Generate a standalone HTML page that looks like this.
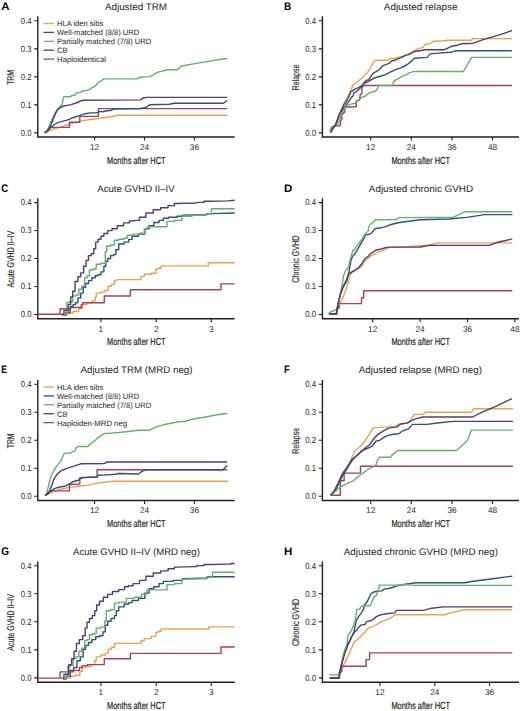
<!DOCTYPE html><html><head><meta charset="utf-8"><style>html,body{margin:0;padding:0;background:#fff;}svg{display:block;}</style></head><body>
<svg width="520" height="711" viewBox="0 0 520 711" font-family='"Liberation Sans", sans-serif' text-rendering="geometricPrecision">
<rect width="520" height="711" fill="#fff"/>
<text x="1.2" y="9.8" font-size="11" font-weight="bold" fill="#000" textLength="8.3" lengthAdjust="spacingAndGlyphs">A</text>
<text x="105" y="9.9" font-size="9.6" fill="#231f20" textLength="61.9" lengthAdjust="spacingAndGlyphs">Adjusted TRM</text>
<path d="M37.8 16.3V137H234.7" fill="none" stroke="#231f20" stroke-width="1.4"/>
<text x="20.7" y="135.7" font-size="8.8" fill="#231f20" textLength="10.8" lengthAdjust="spacingAndGlyphs">0.0</text>
<text x="20.7" y="107.67" font-size="8.8" fill="#231f20" textLength="10.8" lengthAdjust="spacingAndGlyphs">0.1</text>
<text x="20.7" y="79.65" font-size="8.8" fill="#231f20" textLength="10.8" lengthAdjust="spacingAndGlyphs">0.2</text>
<text x="20.7" y="51.62" font-size="8.8" fill="#231f20" textLength="10.8" lengthAdjust="spacingAndGlyphs">0.3</text>
<text x="20.7" y="23.6" font-size="8.8" fill="#231f20" textLength="10.8" lengthAdjust="spacingAndGlyphs">0.4</text>
<text x="94.6" y="149.8" font-size="8.3" fill="#231f20" text-anchor="middle">12</text>
<text x="144.5" y="149.8" font-size="8.3" fill="#231f20" text-anchor="middle">24</text>
<text x="194.4" y="149.8" font-size="8.3" fill="#231f20" text-anchor="middle">36</text>
<path d="M34.2 132.9H37.8M34.2 104.88H37.8M34.2 76.85H37.8M34.2 48.83H37.8M34.2 20.8H37.8M94.6 137V140.6M144.5 137V140.6M194.4 137V140.6" stroke="#231f20" stroke-width="1.1" fill="none"/>
<text x="107.05" y="163.7" font-size="10.2" fill="#231f20" stroke="#231f20" stroke-width="0.2" textLength="58.5" lengthAdjust="spacingAndGlyphs">Months after HCT</text>
<text transform="translate(14.2 77.45) rotate(-90)" x="0" y="0" font-size="9.8" fill="#231f20" stroke="#231f20" stroke-width="0.15" text-anchor="middle" textLength="14.8" lengthAdjust="spacingAndGlyphs">TRM</text>
<path d="M44.5 132.6 46.3 132.5 50.9 130.2 55.5 128.5 61.3 126.8 67.1 125 72.8 123.3 78.6 121.6 84.4 120.4 90.2 119.5 95 119 99.6 118.3 105 117.5 110.4 116.7 115 116 117.3 115.2 227.3 115.2" fill="none" stroke="#eca24c" stroke-width="1.4" stroke-linejoin="round"/>
<path d="M44.5 132.6 46.3 132 48.6 129.1 50.9 127.4 69.4 127.4 69.4 122.2 79.8 122.2 79.8 116.4 98.2 116.4 98.5 108.6 227.3 108.6" fill="none" stroke="#a83f5e" stroke-width="1.4" stroke-linejoin="round"/>
<path d="M44.5 132.6 46.3 132 50.9 127.4 54.4 124.5 57.8 122.7 61.3 121.6 65.9 120.4 69.4 119.3 71.7 118.1 75.2 117 78.6 115.8 82.1 114.7 85.5 113.7 90.2 112.9 95 112.9 98.1 112.5 99.6 111.4 102.7 111.7 105.8 111 111.9 110.2 112.7 109 140.6 108.5 145.9 107.5 150.1 104.7 169.1 104.3 174.4 103.3 223.1 103.3 227.3 100.5" fill="none" stroke="#31507c" stroke-width="1.4" stroke-linejoin="round"/>
<path d="M44.5 132.6 46.3 132 48.6 127.4 50.9 121.6 53.2 117 55.5 112.4 57.8 108.9 61.3 105.4 62.5 103.1 63 99.7 63.6 96.8 70.5 96.8 71.7 95.6 75.2 95 75.7 93.3 80.9 92.2 82.1 91 86.7 90.4 87.8 89.9 90.2 89.3 91.3 88.1 94.8 86.4 97.1 84.1 98.2 82.4 101.7 80.6 104 78.9 137.4 78.9 139.5 77.2 150.1 76.6 157.5 72.4 167 69.8 177.6 69.8 181.8 66 193.5 63.9 224.1 58.8 227.3 58.8" fill="none" stroke="#66b06e" stroke-width="1.4" stroke-linejoin="round"/>
<path d="M44.5 132.6 46.3 132 48.6 129.1 50.9 125 53.2 119.3 55.5 113.5 57.8 109.5 60.2 107.7 63.6 106 67.1 105.4 70.5 104.9 74 103.7 77.5 102.5 80.9 100.8 83.8 100.2 140.6 99.9 143.8 97.7 146.9 97.4 227.3 97.4" fill="none" stroke="#553b71" stroke-width="1.4" stroke-linejoin="round"/>
<path d="M43.5 23.5H54" stroke="#eca24c" stroke-width="1.3"/>
<text x="57" y="26.4" font-size="7.8" fill="#231f20" textLength="46.3" lengthAdjust="spacingAndGlyphs">HLA iden sibs</text>
<path d="M43.5 32.4H54" stroke="#31507c" stroke-width="1.3"/>
<text x="57" y="35.3" font-size="7.8" fill="#231f20" textLength="82.2" lengthAdjust="spacingAndGlyphs">Well-matched (8/8) URD</text>
<path d="M43.5 41.3H54" stroke="#66b06e" stroke-width="1.3"/>
<text x="57" y="44.2" font-size="7.8" fill="#231f20" textLength="94.2" lengthAdjust="spacingAndGlyphs">Partially matched (7/8) URD</text>
<path d="M43.5 50.2H54" stroke="#553b71" stroke-width="1.3"/>
<text x="57" y="53.1" font-size="7.8" fill="#231f20" textLength="10.5" lengthAdjust="spacingAndGlyphs">CB</text>
<path d="M43.5 59.1H54" stroke="#a83f5e" stroke-width="1.3"/>
<text x="57" y="62" font-size="7.8" fill="#231f20" textLength="49" lengthAdjust="spacingAndGlyphs">Haploidentical</text>
<text x="284" y="9.8" font-size="11" font-weight="bold" fill="#000" textLength="7.2" lengthAdjust="spacingAndGlyphs">B</text>
<text x="383.8" y="9.9" font-size="9.6" fill="#231f20" textLength="73.7" lengthAdjust="spacingAndGlyphs">Adjusted relapse</text>
<path d="M322.4 16.3V137H519" fill="none" stroke="#231f20" stroke-width="1.4"/>
<text x="305.2" y="135.7" font-size="8.8" fill="#231f20" textLength="10.8" lengthAdjust="spacingAndGlyphs">0.0</text>
<text x="305.2" y="107.67" font-size="8.8" fill="#231f20" textLength="10.8" lengthAdjust="spacingAndGlyphs">0.1</text>
<text x="305.2" y="79.65" font-size="8.8" fill="#231f20" textLength="10.8" lengthAdjust="spacingAndGlyphs">0.2</text>
<text x="305.2" y="51.62" font-size="8.8" fill="#231f20" textLength="10.8" lengthAdjust="spacingAndGlyphs">0.3</text>
<text x="305.2" y="23.6" font-size="8.8" fill="#231f20" textLength="10.8" lengthAdjust="spacingAndGlyphs">0.4</text>
<text x="370.7" y="149.8" font-size="8.3" fill="#231f20" text-anchor="middle">12</text>
<text x="411.3" y="149.8" font-size="8.3" fill="#231f20" text-anchor="middle">24</text>
<text x="452" y="149.8" font-size="8.3" fill="#231f20" text-anchor="middle">36</text>
<text x="492.5" y="149.8" font-size="8.3" fill="#231f20" text-anchor="middle">48</text>
<path d="M318.8 132.9H322.4M318.8 104.88H322.4M318.8 76.85H322.4M318.8 48.83H322.4M318.8 20.8H322.4M370.7 137V140.6M411.3 137V140.6M452 137V140.6M492.5 137V140.6" stroke="#231f20" stroke-width="1.1" fill="none"/>
<text x="391.45" y="163.7" font-size="10.2" fill="#231f20" stroke="#231f20" stroke-width="0.2" textLength="58.5" lengthAdjust="spacingAndGlyphs">Months after HCT</text>
<text transform="translate(298.8 77.45) rotate(-90)" x="0" y="0" font-size="9.8" fill="#231f20" stroke="#231f20" stroke-width="0.15" text-anchor="middle" textLength="25.8" lengthAdjust="spacingAndGlyphs">Relapse</text>
<path d="M330.7 132.3 333.5 127.5 337.4 120.8 341.2 111.2 344.1 103.5 347 97.7 350.8 90 352.8 85.2 356.6 82.3 360.5 79.4 364.3 75.6 368.2 71.7 371 66.9 373.9 61.2 375.8 60.2 387.4 60.2 389.3 58.7 395.1 58.3 398.9 57.3 402.8 56.3 406.6 55.4 410.5 53.5 414.3 50.6 418.2 48.7 423.1 47.3 425.1 44.2 430.1 43.8 433.2 41.2 445.3 40.8 447.3 40.2 471.5 40.2 472.6 38.6 511.9 38.6" fill="none" stroke="#eca24c" stroke-width="1.4" stroke-linejoin="round"/>
<path d="M330.4 132.3 330.6 129 332 127.2 334.3 126.1 340.2 125.7 340.6 120.9 341.8 119.4 341.8 114.6 343.7 113.1 344.9 111.5 344.9 107.2 356.3 106.8 356.3 100.9 359.5 100.1 360.3 94.6 361.9 93.4 361.9 87.9 362.6 86.4 364.5 85.5 511.9 85.5" fill="none" stroke="#a83f5e" stroke-width="1.4" stroke-linejoin="round"/>
<path d="M330.7 132.3 333.5 127.5 335.9 124.1 339 115.4 342.2 109.9 346.1 105.2 349.3 100.5 351.6 97.3 353.2 95.7 354 92.6 356.3 91.8 357.9 90.2 359.5 88.7 361.1 87.1 363.4 83.9 366.6 82.4 372 79.4 375.8 77.5 379.7 76.5 385.5 74.6 391.2 71.7 395.1 69.8 400.8 67.9 406.6 65 410.5 62.1 414.3 58.3 427.1 57.4 430.1 53.9 441.3 52.9 451.3 52.3 455.4 50.7 511.9 50.7" fill="none" stroke="#31507c" stroke-width="1.4" stroke-linejoin="round"/>
<path d="M330.7 132.3 330.7 129.4 333.5 127.5 337.4 124.6 339.3 120.8 341.2 115 343.2 111.2 345.1 107.3 348 105.4 350 104.4 355.4 103.1 358.1 100.4 360.8 97.7 363.5 97 366.2 95.7 368.8 93 371.5 92.3 375.6 91 377.6 88.3 378.3 85.5 392.4 85.5 392.9 83.4 394.8 80.5 397.7 79.1 400.6 77.2 403.5 75.7 406.4 74.8 409.3 72.8 412.2 71.9 415 71.5 463.5 71.5 471.5 57.4 511.9 57.4" fill="none" stroke="#66b06e" stroke-width="1.4" stroke-linejoin="round"/>
<path d="M330.7 132.3 333.5 127.5 335.9 124.1 339 115.4 341.4 109.9 343.7 105.2 346.9 100.5 349.3 95.7 350.8 91.8 353.2 90.2 356.3 88.7 359.5 87.1 362.6 84.7 366 80.5 368.9 79.6 370.8 76.7 372.7 73.8 374.7 72.4 376.6 71.4 378.5 70 380.4 68.5 382.3 66.1 384.3 65.2 387.2 64.2 390 62.8 392 60.8 394.8 60.3 397.7 58.9 400.6 57.9 403.5 56.5 405.4 55.1 408.3 54.6 411.2 53.1 414.1 51.7 416 51.2 423.1 50.3 424.1 49.7 444.3 49.7 447.3 48.3 451.3 46.3 457.4 45.2 461.4 43.8 473.6 43.2 481.6 40.2 491.7 37.2 501.8 34.1 511.9 30.5" fill="none" stroke="#553b71" stroke-width="1.4" stroke-linejoin="round"/>
<text x="1.2" y="191.6" font-size="11" font-weight="bold" fill="#000" textLength="6.9" lengthAdjust="spacingAndGlyphs">C</text>
<text x="97.3" y="191.7" font-size="9.6" fill="#231f20" textLength="77.3" lengthAdjust="spacingAndGlyphs">Acute GVHD II–IV</text>
<path d="M37.8 198.2V318.7H234.7" fill="none" stroke="#231f20" stroke-width="1.4"/>
<text x="20.7" y="317.3" font-size="8.8" fill="#231f20" textLength="10.8" lengthAdjust="spacingAndGlyphs">0.0</text>
<text x="20.7" y="289.32" font-size="8.8" fill="#231f20" textLength="10.8" lengthAdjust="spacingAndGlyphs">0.1</text>
<text x="20.7" y="261.35" font-size="8.8" fill="#231f20" textLength="10.8" lengthAdjust="spacingAndGlyphs">0.2</text>
<text x="20.7" y="233.38" font-size="8.8" fill="#231f20" textLength="10.8" lengthAdjust="spacingAndGlyphs">0.3</text>
<text x="20.7" y="205.4" font-size="8.8" fill="#231f20" textLength="10.8" lengthAdjust="spacingAndGlyphs">0.4</text>
<text x="100.9" y="331.5" font-size="8.3" fill="#231f20" text-anchor="middle">1</text>
<text x="156.2" y="331.5" font-size="8.3" fill="#231f20" text-anchor="middle">2</text>
<text x="211.3" y="331.5" font-size="8.3" fill="#231f20" text-anchor="middle">3</text>
<path d="M34.2 314.5H37.8M34.2 286.52H37.8M34.2 258.55H37.8M34.2 230.57H37.8M34.2 202.6H37.8M100.9 318.7V322.3M156.2 318.7V322.3M211.3 318.7V322.3" stroke="#231f20" stroke-width="1.1" fill="none"/>
<text x="107.05" y="345.4" font-size="10.2" fill="#231f20" stroke="#231f20" stroke-width="0.2" textLength="58.5" lengthAdjust="spacingAndGlyphs">Months after HCT</text>
<text transform="translate(14.2 259.15) rotate(-90)" x="0" y="0" font-size="9.8" fill="#231f20" stroke="#231f20" stroke-width="0.15" text-anchor="middle" textLength="56.6" lengthAdjust="spacingAndGlyphs">Acute GVHD II–IV</text>
<path d="M61.1 315.2 66.8 314.6 68.25 314.6 68.25 313.3 69.7 313.3 73.1 313.3 73.1 311.3 76.5 311.3 78.9 311.3 78.9 308.5 81.3 308.5 82.75 308.5 82.75 304.6 84.2 304.6 87.05 304.6 87.05 302.7 89.9 302.7 92.3 302.7 92.3 300.8 94.7 300.8 95.2 300.8 95.2 296.9 95.7 296.9 96.2 296.9 96.2 293.1 96.7 293.1 100.05 293.1 100.05 292.1 103.4 292.1 104.85 292.1 104.85 290.2 106.3 290.2 108.2 290.2 108.2 286.3 110.1 286.3 111.55 286.3 111.55 284.4 113 284.4 114.45 284.4 114.45 280.6 115.9 280.6 116.85 280.6 116.85 279.6 117.8 279.6 140.6 279.6 141.1 279.6 141.1 276.4 141.6 276.4 144.25 276.4 144.25 274.3 146.9 274.3 151.15 274.3 151.15 273.3 155.4 273.3 155.9 273.3 155.9 269 156.4 269 158.55 269 158.55 268 160.7 268 161.2 268 161.2 265.9 161.7 265.9 208.3 265.9 208.3 262.7 234.7 262.7" fill="none" stroke="#eca24c" stroke-width="1.4" stroke-linejoin="round"/>
<path d="M38 314.2 60.1 314.2 60.1 308.8 68.8 308.8 70.7 308.8 70.7 307.5 72.6 307.5 80.3 307.5 81.25 307.5 81.25 304.6 82.2 304.6 82.7 304.6 82.7 302.7 83.2 302.7 104.3 302.7 104.3 296 130.3 296 130.3 289.8 221 289.8 221 283.9 234.7 283.9" fill="none" stroke="#a83f5e" stroke-width="1.4" stroke-linejoin="round"/>
<path d="M63 315.2 65.9 315.2 65.9 312.3 68.8 312.3 70.25 312.3 70.25 306.5 71.7 306.5 73.1 306.5 73.1 304.6 74.5 304.6 75.5 304.6 75.5 302.7 76.5 302.7 77.9 302.7 77.9 297.9 79.3 297.9 80.75 297.9 80.75 293.1 82.2 293.1 83.2 293.1 83.2 287.3 84.2 287.3 85.6 287.3 85.6 283.5 87 283.5 88.45 283.5 88.45 280.6 89.9 280.6 91.85 280.6 91.85 277.7 93.8 277.7 95.25 277.7 95.25 275.8 96.7 275.8 98.1 275.8 98.1 274.8 99.5 274.8 100.95 274.8 100.95 271.9 102.4 271.9 103.85 271.9 103.85 266.2 105.3 266.2 105.8 266.2 105.8 261.3 106.3 261.3 107.75 261.3 107.75 258.5 109.2 258.5 110.6 258.5 110.6 255.6 112 255.6 113.45 255.6 113.45 254.6 114.9 254.6 115.85 254.6 115.85 249.8 116.8 249.8 118.75 249.8 118.75 244 120.7 244 124.05 244 124.05 242.1 127.4 242.1 128.7 242.1 128.7 239.4 130 239.4 132.1 239.4 132.1 236.3 134.2 236.3 138.45 236.3 138.45 234.1 142.7 234.1 144.8 234.1 144.8 228.8 146.9 228.8 149.05 228.8 149.05 225.7 151.2 225.7 153.8 225.7 153.8 222.5 156.4 222.5 159.05 222.5 159.05 220.4 161.7 220.4 163.3 220.4 163.3 218.3 164.9 218.3 168.6 218.3 168.6 217.2 172.3 217.2 177.05 217.2 177.05 216.2 181.8 216.2 182.35 216.2 182.35 215.1 182.9 215.1 201.9 214.7 206.65 214.7 206.65 213.6 211.4 213.6 234.7 213" fill="none" stroke="#31507c" stroke-width="1.4" stroke-linejoin="round"/>
<path d="M63 315.2 64.9 315.2 64.9 314.2 66.8 314.2 66.8 302.7 69.25 302.7 69.25 301.7 71.7 301.7 72.65 301.7 72.65 296 73.6 296 76 296 76 295 78.4 295 78.85 295 78.85 289.2 79.3 289.2 81.75 289.2 81.75 286.3 84.2 286.3 84.65 286.3 84.65 277.7 85.1 277.7 87.05 277.7 87.05 275.8 89 275.8 89.45 275.8 89.45 270 89.9 270 92.8 270 92.8 269 95.7 269 96.2 269 96.2 264.2 96.7 264.2 100.5 264.2 100.5 263.3 104.3 263.3 105.3 263.3 105.3 251.7 106.3 251.7 106.75 251.7 106.75 246 107.2 246 110.6 246 110.6 245 114 245 114.45 245 114.45 240.2 114.9 240.2 118.75 240.2 118.75 239.2 122.6 239.2 123.55 239.2 123.55 238.3 124.5 238.3 127.25 238.3 127.25 235.2 130 235.2 133.15 235.2 133.15 234.1 136.3 234.1 139.5 234.1 139.5 233.1 142.7 233.1 144.3 233.1 144.3 228.8 145.9 228.8 147.45 228.8 147.45 226.7 149 226.7 167 226.7 167 221.4 174.4 221.4 174.4 220.4 181.8 220.4 181.8 216.2 191.85 216.2 191.85 215.1 201.9 215.1 206.65 215.1 206.65 214 211.4 214 211.4 208.8 234.7 208.8" fill="none" stroke="#66b06e" stroke-width="1.4" stroke-linejoin="round"/>
<path d="M61.1 314.2 63.95 314.2 63.95 310.4 66.8 310.4 68.25 310.4 68.25 304.6 69.7 304.6 70.7 304.6 70.7 296.9 71.7 296.9 72.65 296.9 72.65 291.2 73.6 291.2 75.05 291.2 75.05 281.5 76.5 281.5 77.9 281.5 77.9 276.7 79.3 276.7 80.75 276.7 80.75 272.9 82.2 272.9 83.65 272.9 83.65 266.2 85.1 266.2 86.05 266.2 86.05 260.4 87 260.4 88.45 260.4 88.45 255.6 89.9 255.6 91.35 255.6 91.35 253.7 92.8 253.7 93.75 253.7 93.75 248.8 94.7 248.8 95.7 248.8 95.7 242.1 96.7 242.1 98.1 242.1 98.1 239.2 99.5 239.2 100.95 239.2 100.95 236.3 102.4 236.3 103.85 236.3 103.85 233.5 105.3 233.5 107.7 233.5 107.7 230.6 110.1 230.6 112.05 230.6 112.05 228.7 114 228.7 117.35 228.7 117.35 225.8 120.7 225.8 123.6 225.8 123.6 222.9 126.5 222.9 129.35 222.9 129.35 221 132.2 221 136.3 220.4 139.5 220.4 139.5 217.2 142.7 217.2 145.85 217.2 145.85 213 149 213 153.25 213 153.25 209.8 157.5 209.8 160.65 209.8 160.65 207.7 163.8 207.7 168.05 207.7 168.05 205.6 172.3 205.6 174.4 205.6 174.4 203.5 176.5 203.5 195.6 203 197.7 202.4 204.05 202.4 204.05 201.3 210.4 201.3 227.3 200.9 234.7 200.3" fill="none" stroke="#553b71" stroke-width="1.4" stroke-linejoin="round"/>
<text x="284" y="191.6" font-size="11" font-weight="bold" fill="#000" textLength="8.3" lengthAdjust="spacingAndGlyphs">D</text>
<text x="368.8" y="191.7" font-size="9.6" fill="#231f20" textLength="104.3" lengthAdjust="spacingAndGlyphs">Adjusted chronic GVHD</text>
<path d="M322.4 198.2V318.7H519" fill="none" stroke="#231f20" stroke-width="1.4"/>
<text x="305.2" y="317.3" font-size="8.8" fill="#231f20" textLength="10.8" lengthAdjust="spacingAndGlyphs">0.0</text>
<text x="305.2" y="289.32" font-size="8.8" fill="#231f20" textLength="10.8" lengthAdjust="spacingAndGlyphs">0.1</text>
<text x="305.2" y="261.35" font-size="8.8" fill="#231f20" textLength="10.8" lengthAdjust="spacingAndGlyphs">0.2</text>
<text x="305.2" y="233.38" font-size="8.8" fill="#231f20" textLength="10.8" lengthAdjust="spacingAndGlyphs">0.3</text>
<text x="305.2" y="205.4" font-size="8.8" fill="#231f20" textLength="10.8" lengthAdjust="spacingAndGlyphs">0.4</text>
<text x="372.7" y="331.5" font-size="8.3" fill="#231f20" text-anchor="middle">12</text>
<text x="420.1" y="331.5" font-size="8.3" fill="#231f20" text-anchor="middle">24</text>
<text x="467.5" y="331.5" font-size="8.3" fill="#231f20" text-anchor="middle">36</text>
<text x="514.9" y="331.5" font-size="8.3" fill="#231f20" text-anchor="middle">48</text>
<path d="M318.8 314.5H322.4M318.8 286.52H322.4M318.8 258.55H322.4M318.8 230.57H322.4M318.8 202.6H322.4M372.7 318.7V322.3M420.1 318.7V322.3M467.5 318.7V322.3M514.9 318.7V322.3" stroke="#231f20" stroke-width="1.1" fill="none"/>
<text x="391.45" y="345.4" font-size="10.2" fill="#231f20" stroke="#231f20" stroke-width="0.2" textLength="58.5" lengthAdjust="spacingAndGlyphs">Months after HCT</text>
<text transform="translate(298.8 259.15) rotate(-90)" x="0" y="0" font-size="9.8" fill="#231f20" stroke="#231f20" stroke-width="0.15" text-anchor="middle" textLength="47.3" lengthAdjust="spacingAndGlyphs">Chronic GVHD</text>
<path d="M336.9 311 338.6 304.1 340.7 302 342.8 297.7 345 292.4 347.1 286 348.7 280.6 349.8 276.3 351.4 273.1 355.7 269.9 359.9 267.8 363.1 264.6 364.2 262 368.1 258.2 371.9 255.3 375.8 253.3 379.6 251.9 383.5 250.5 385.4 249 389.2 247.6 395 247.1 405 246.9 427.1 245.3 438.2 242.9 512.3 242.9" fill="none" stroke="#eca24c" stroke-width="1.4" stroke-linejoin="round"/>
<path d="M328.9 314.3 336.9 314.3 336.9 308.4 339.1 308.4 339.1 303.6 361.5 303.6 361.5 297.7 363.7 297.7 363.7 290.8 512.3 290.8" fill="none" stroke="#a83f5e" stroke-width="1.4" stroke-linejoin="round"/>
<path d="M328.9 313.7 336.4 313.7 337.5 308.4 338.6 302 340.2 295.6 341.8 290.2 343.4 286 345 282.8 346.6 279.5 347.6 276.3 348.7 273.1 349.8 266.7 350.8 261.4 352.4 256.5 354.6 254.3 358.5 247.6 361.3 242.8 364.2 238 365.7 234.6 368.1 234.6 371 233.6 373.8 230.3 375.8 228.3 378.7 228.2 381.5 227.6 385.4 226.9 387.3 225.9 391.2 224.5 398.2 222.8 405.1 221.8 420.5 219.7 449.2 219 466.9 217.4 484.6 214.6 512.3 214.6" fill="none" stroke="#31507c" stroke-width="1.4" stroke-linejoin="round"/>
<path d="M328.6 312.8 334.3 310.5 336.4 309.5 337.5 306.3 339.1 299.9 340.7 292.4 341.8 287 342.8 281.7 343.4 276.3 345 272.1 346 269.9 347.6 268.3 348.7 265.7 349.8 261.4 351.7 254.3 353.2 250 354.6 249.5 355.6 247.6 358.5 243.7 360.9 240.8 363.3 237 364.7 234.6 366.2 232.7 368.1 231.2 369 226.4 370 224.5 372.9 222.6 375.3 219.7 396.4 219.5 399 217.6 453.7 217.2 464.7 211.7 512.3 211.7" fill="none" stroke="#66b06e" stroke-width="1.4" stroke-linejoin="round"/>
<path d="M336.4 313.7 337.5 306.3 338.6 300.9 340.2 294.5 341.8 290.2 343.4 287 345 283.8 346.6 281.7 347.6 277.4 348.7 274.2 351.4 272.1 355.7 269.9 358.9 267.3 362.1 263.5 364.2 259.6 366.2 257.6 368.3 256.4 370 254.3 371.9 252.6 373.8 251.6 375.8 250.2 378.7 249.5 381.5 249 385.4 247.6 389.2 247.1 420.5 247 429.3 245.4 489 245.4 497.9 242.2 512.3 238.9" fill="none" stroke="#553b71" stroke-width="1.4" stroke-linejoin="round"/>
<text x="1.2" y="373.3" font-size="11" font-weight="bold" fill="#000" textLength="5.7" lengthAdjust="spacingAndGlyphs">E</text>
<text x="80.5" y="373.4" font-size="9.6" fill="#231f20" textLength="112" lengthAdjust="spacingAndGlyphs">Adjusted TRM (MRD neg)</text>
<path d="M37.8 379.9V500.5H234.7" fill="none" stroke="#231f20" stroke-width="1.4"/>
<text x="20.7" y="499" font-size="8.8" fill="#231f20" textLength="10.8" lengthAdjust="spacingAndGlyphs">0.0</text>
<text x="20.7" y="471.03" font-size="8.8" fill="#231f20" textLength="10.8" lengthAdjust="spacingAndGlyphs">0.1</text>
<text x="20.7" y="443.05" font-size="8.8" fill="#231f20" textLength="10.8" lengthAdjust="spacingAndGlyphs">0.2</text>
<text x="20.7" y="415.07" font-size="8.8" fill="#231f20" textLength="10.8" lengthAdjust="spacingAndGlyphs">0.3</text>
<text x="20.7" y="387.1" font-size="8.8" fill="#231f20" textLength="10.8" lengthAdjust="spacingAndGlyphs">0.4</text>
<text x="94.6" y="513.3" font-size="8.3" fill="#231f20" text-anchor="middle">12</text>
<text x="144.5" y="513.3" font-size="8.3" fill="#231f20" text-anchor="middle">24</text>
<text x="194.4" y="513.3" font-size="8.3" fill="#231f20" text-anchor="middle">36</text>
<path d="M34.2 496.2H37.8M34.2 468.23H37.8M34.2 440.25H37.8M34.2 412.27H37.8M34.2 384.3H37.8M94.6 500.5V504.1M144.5 500.5V504.1M194.4 500.5V504.1" stroke="#231f20" stroke-width="1.1" fill="none"/>
<text x="107.05" y="527.2" font-size="10.2" fill="#231f20" stroke="#231f20" stroke-width="0.2" textLength="58.5" lengthAdjust="spacingAndGlyphs">Months after HCT</text>
<text transform="translate(14.2 440.85) rotate(-90)" x="0" y="0" font-size="9.8" fill="#231f20" stroke="#231f20" stroke-width="0.15" text-anchor="middle" textLength="14.8" lengthAdjust="spacingAndGlyphs">TRM</text>
<path d="M44.9 495.6 46.3 494.9 50.9 492.6 55.5 490.9 60.1 489.2 69.4 487.4 78.6 486.3 87.8 485.1 97.1 483.4 104 482.2 111.1 481.5 114.9 481.3 228 481.3" fill="none" stroke="#eca24c" stroke-width="1.4" stroke-linejoin="round"/>
<path d="M44.9 495.4 46.3 494.9 50.9 490.9 69.4 490.9 69.4 484.5 79.8 484 79.8 477.6 97.1 477 97.1 469.8 227.3 469.8" fill="none" stroke="#a83f5e" stroke-width="1.4" stroke-linejoin="round"/>
<path d="M44.9 495.4 46.3 494.9 50.9 490.9 54.4 488.6 56.7 487.8 61.3 486.8 64.8 486.3 67.1 485.1 69.4 484 72.8 481.7 76.3 480.8 78.6 480.2 80.9 478.2 83.2 477.6 97.1 477 98.2 475.3 104 475.1 114.9 474.2 118.8 473.5 138.5 474 142.7 470.9 146.9 469.8 223.1 469.8 227.3 465.6" fill="none" stroke="#31507c" stroke-width="1.4" stroke-linejoin="round"/>
<path d="M44.9 495.4 46.3 494.9 48.6 485.7 50.3 478.8 52.1 474.2 53.8 470.7 55.5 467.8 57.8 464.9 59.6 462.6 61.3 460.3 63 456.3 64.2 453.4 71.1 452.8 72.3 451.7 74.6 451.1 76.3 447.6 78 446.5 87.8 446.5 91.3 443 94.8 440.7 97.1 438.4 100.5 436.1 104 433.5 111.1 433.1 118.8 432.5 128.4 431.5 138.5 430.3 149 430.3 157.5 426.4 168.1 423.7 178.7 421.8 185 421.2 193.5 419 204 417.3 214.6 415.2 223.1 413.8 227.3 413.8" fill="none" stroke="#66b06e" stroke-width="1.4" stroke-linejoin="round"/>
<path d="M44.9 495.4 46.3 494.9 49.8 490.3 52.1 484.5 53.8 479.3 55.5 476.5 57.3 474.2 59 472.4 61.3 470.7 64.2 469.5 67.1 468.4 70.5 467.2 74 466.1 77.5 464.9 80.9 463.8 104 463.6 107.2 462 227.3 462" fill="none" stroke="#553b71" stroke-width="1.4" stroke-linejoin="round"/>
<path d="M43.5 387H54" stroke="#eca24c" stroke-width="1.3"/>
<text x="57" y="389.9" font-size="7.8" fill="#231f20" textLength="46.3" lengthAdjust="spacingAndGlyphs">HLA iden sibs</text>
<path d="M43.5 395.9H54" stroke="#31507c" stroke-width="1.3"/>
<text x="57" y="398.8" font-size="7.8" fill="#231f20" textLength="82.2" lengthAdjust="spacingAndGlyphs">Well-matched (8/8) URD</text>
<path d="M43.5 404.8H54" stroke="#66b06e" stroke-width="1.3"/>
<text x="57" y="407.7" font-size="7.8" fill="#231f20" textLength="94.2" lengthAdjust="spacingAndGlyphs">Partially matched (7/8) URD</text>
<path d="M43.5 413.7H54" stroke="#553b71" stroke-width="1.3"/>
<text x="57" y="416.6" font-size="7.8" fill="#231f20" textLength="10.5" lengthAdjust="spacingAndGlyphs">CB</text>
<path d="M43.5 422.6H54" stroke="#a83f5e" stroke-width="1.3"/>
<text x="57" y="425.5" font-size="7.8" fill="#231f20" textLength="70" lengthAdjust="spacingAndGlyphs">Haploiden-MRD neg</text>
<text x="284" y="373.3" font-size="11" font-weight="bold" fill="#000" textLength="5.7" lengthAdjust="spacingAndGlyphs">F</text>
<text x="358.8" y="373.4" font-size="9.6" fill="#231f20" textLength="123.1" lengthAdjust="spacingAndGlyphs">Adjusted relapse (MRD neg)</text>
<path d="M322.4 379.9V500.5H519" fill="none" stroke="#231f20" stroke-width="1.4"/>
<text x="305.2" y="499" font-size="8.8" fill="#231f20" textLength="10.8" lengthAdjust="spacingAndGlyphs">0.0</text>
<text x="305.2" y="471.03" font-size="8.8" fill="#231f20" textLength="10.8" lengthAdjust="spacingAndGlyphs">0.1</text>
<text x="305.2" y="443.05" font-size="8.8" fill="#231f20" textLength="10.8" lengthAdjust="spacingAndGlyphs">0.2</text>
<text x="305.2" y="415.07" font-size="8.8" fill="#231f20" textLength="10.8" lengthAdjust="spacingAndGlyphs">0.3</text>
<text x="305.2" y="387.1" font-size="8.8" fill="#231f20" textLength="10.8" lengthAdjust="spacingAndGlyphs">0.4</text>
<text x="370.7" y="513.3" font-size="8.3" fill="#231f20" text-anchor="middle">12</text>
<text x="411.3" y="513.3" font-size="8.3" fill="#231f20" text-anchor="middle">24</text>
<text x="452" y="513.3" font-size="8.3" fill="#231f20" text-anchor="middle">36</text>
<text x="492.5" y="513.3" font-size="8.3" fill="#231f20" text-anchor="middle">48</text>
<path d="M318.8 496.2H322.4M318.8 468.23H322.4M318.8 440.25H322.4M318.8 412.27H322.4M318.8 384.3H322.4M370.7 500.5V504.1M411.3 500.5V504.1M452 500.5V504.1M492.5 500.5V504.1" stroke="#231f20" stroke-width="1.1" fill="none"/>
<text x="391.45" y="527.2" font-size="10.2" fill="#231f20" stroke="#231f20" stroke-width="0.2" textLength="58.5" lengthAdjust="spacingAndGlyphs">Months after HCT</text>
<text transform="translate(298.8 440.85) rotate(-90)" x="0" y="0" font-size="9.8" fill="#231f20" stroke="#231f20" stroke-width="0.15" text-anchor="middle" textLength="25.8" lengthAdjust="spacingAndGlyphs">Relapse</text>
<path d="M330.7 495.2 334.5 491.3 338.3 484.6 342.2 476.9 347 469.2 351.8 457.7 354.7 451 360.5 446.2 365.3 440.4 369.1 434.6 373 427.9 387.4 426.9 395.1 426.9 398.9 424 408.5 423.1 414.3 414.4 423.1 414.3 425.1 412.3 471.5 412.3 473.6 408.7 512.9 408.7" fill="none" stroke="#eca24c" stroke-width="1.4" stroke-linejoin="round"/>
<path d="M330.7 495.2 340.3 495.2 340.3 480.8 344.1 480.8 344.1 473.1 360.5 473.1 360.5 466.3 512.9 466.3" fill="none" stroke="#a83f5e" stroke-width="1.4" stroke-linejoin="round"/>
<path d="M330.7 495.2 334.5 491.3 338.3 484.6 342.2 476 347 468.3 352.8 459.6 356.6 455.8 363.3 450 368.2 448.1 372 446.2 375.8 441.3 379.7 440.4 383.5 437.5 387.4 435.6 393.2 434.2 398.9 433.7 402.8 430.8 408.5 428.8 412.4 424.4 427.1 424.4 439.2 422.8 453.4 421.4 512.9 421.4" fill="none" stroke="#31507c" stroke-width="1.4" stroke-linejoin="round"/>
<path d="M330.7 495.2 334.5 492.3 337.4 489.4 341.2 486.5 345.1 484.6 348.9 482.7 353.7 480.8 357.6 476.9 360.5 475 364.3 472.1 368.2 469.2 373 466.9 375.8 465.4 377.8 459.6 379.7 457.3 390.3 457.3 393.2 453.8 398 450.5 456.4 450.5 463.5 444.2 467.5 440.2 471.5 430.1 512.9 430.1" fill="none" stroke="#66b06e" stroke-width="1.4" stroke-linejoin="round"/>
<path d="M330.7 495.2 334.5 490.4 338.3 482.7 342.2 474 347 467.3 351.8 459.6 356.6 455.8 360.5 451.9 365.3 448.1 370.1 444.2 373.9 438.5 377.8 434.6 383.5 430.8 389.3 427.9 397 426.9 400.8 424 406.6 423.1 412.4 420.2 417 418.4 423.1 417 472.6 417 481.6 412.3 495.8 406.3 511.9 398.6" fill="none" stroke="#553b71" stroke-width="1.4" stroke-linejoin="round"/>
<text x="1.2" y="554.7" font-size="11" font-weight="bold" fill="#000" textLength="7.8" lengthAdjust="spacingAndGlyphs">G</text>
<text x="73" y="554.8" font-size="9.6" fill="#231f20" textLength="126.9" lengthAdjust="spacingAndGlyphs">Acute GVHD II–IV (MRD neg)</text>
<path d="M37.8 561.6V682.3H234.7" fill="none" stroke="#231f20" stroke-width="1.4"/>
<text x="20.7" y="680.7" font-size="8.8" fill="#231f20" textLength="10.8" lengthAdjust="spacingAndGlyphs">0.0</text>
<text x="20.7" y="652.65" font-size="8.8" fill="#231f20" textLength="10.8" lengthAdjust="spacingAndGlyphs">0.1</text>
<text x="20.7" y="624.6" font-size="8.8" fill="#231f20" textLength="10.8" lengthAdjust="spacingAndGlyphs">0.2</text>
<text x="20.7" y="596.55" font-size="8.8" fill="#231f20" textLength="10.8" lengthAdjust="spacingAndGlyphs">0.3</text>
<text x="20.7" y="568.5" font-size="8.8" fill="#231f20" textLength="10.8" lengthAdjust="spacingAndGlyphs">0.4</text>
<text x="100.9" y="695.1" font-size="8.3" fill="#231f20" text-anchor="middle">1</text>
<text x="156.2" y="695.1" font-size="8.3" fill="#231f20" text-anchor="middle">2</text>
<text x="211.3" y="695.1" font-size="8.3" fill="#231f20" text-anchor="middle">3</text>
<path d="M34.2 677.9H37.8M34.2 649.85H37.8M34.2 621.8H37.8M34.2 593.75H37.8M34.2 565.7H37.8M100.9 682.3V685.9M156.2 682.3V685.9M211.3 682.3V685.9" stroke="#231f20" stroke-width="1.1" fill="none"/>
<text x="107.05" y="709" font-size="10.2" fill="#231f20" stroke="#231f20" stroke-width="0.2" textLength="58.5" lengthAdjust="spacingAndGlyphs">Months after HCT</text>
<text transform="translate(14.2 622.4) rotate(-90)" x="0" y="0" font-size="9.8" fill="#231f20" stroke="#231f20" stroke-width="0.15" text-anchor="middle" textLength="56.6" lengthAdjust="spacingAndGlyphs">Acute GVHD II–IV</text>
<path d="M64 679 66.4 679 66.4 678.1 68.8 678.1 70.25 678.1 70.25 676.2 71.7 676.2 75.05 676.2 75.05 675.2 78.4 675.2 79.85 675.2 79.85 671.3 81.3 671.3 82.25 671.3 82.25 667.5 83.2 667.5 85.6 667.5 85.6 666.5 88 666.5 90.9 666.5 90.9 664.6 93.8 664.6 94.75 664.6 94.75 660.8 95.7 660.8 96.2 660.8 96.2 656.9 96.7 656.9 100.5 656.9 100.5 655 104.3 655 105.3 655 105.3 653.1 106.3 653.1 108.2 653.1 108.2 649.2 110.1 649.2 111.55 649.2 111.55 647.3 113 647.3 114.45 647.3 114.45 643.5 115.9 643.5 118.8 643.4 140.6 643.4 141.1 643.4 141.1 640.7 141.6 640.7 144.25 640.7 144.25 638.6 146.9 638.6 151.15 638.6 151.15 636.4 155.4 636.4 155.9 636.4 155.9 632.2 156.4 632.2 158.55 632.2 158.55 631.2 160.7 631.2 161.2 631.2 161.2 629 161.7 629 208.3 629 208.8 629 208.8 626.9 209.3 626.9 234.7 626.9" fill="none" stroke="#eca24c" stroke-width="1.4" stroke-linejoin="round"/>
<path d="M38 678.1 60.1 678.1 60.1 671.9 70.7 671.9 73.6 671.9 73.6 670.4 76.5 670.4 79.35 670.4 79.35 667.5 82.2 667.5 82.2 665.6 87.5 665.6 87.5 664.6 92.8 664.6 104.3 664.6 104.3 658.8 130.3 658.8 130.3 653.4 221 653.4 221 647 234.7 647" fill="none" stroke="#a83f5e" stroke-width="1.4" stroke-linejoin="round"/>
<path d="M63 679 65.9 679 65.9 676.2 68.8 676.2 70.25 676.2 70.25 670.4 71.7 670.4 73.6 670.4 73.6 667.5 75.5 667.5 76.95 667.5 76.95 660.8 78.4 660.8 80.3 660.8 80.3 656.9 82.2 656.9 83.2 656.9 83.2 649.2 84.2 649.2 85.6 649.2 85.6 645.4 87 645.4 88.45 645.4 88.45 642.5 89.9 642.5 91.85 642.5 91.85 639.6 93.8 639.6 95.7 639.6 95.7 636.7 97.6 636.7 99.55 636.7 99.55 635.8 101.5 635.8 102.9 635.8 102.9 631.9 104.3 631.9 105.3 631.9 105.3 625.2 106.3 625.2 107.75 625.2 107.75 621.3 109.2 621.3 111.1 621.3 111.1 618.5 113 618.5 114.45 618.5 114.45 615.6 115.9 615.6 116.35 615.6 116.35 610.8 116.8 610.8 118.75 610.8 118.75 606.9 120.7 606.9 124.05 606.9 124.05 604 127.4 604 128.7 604 128.7 602.6 130 602.6 132.1 602.6 132.1 600.5 134.2 600.5 138.45 600.5 138.45 598.4 142.7 598.4 144.8 598.4 144.8 593.1 146.9 593.1 149.05 593.1 149.05 588.8 151.2 588.8 153.8 588.8 153.8 586.7 156.4 586.7 159.05 586.7 159.05 583.6 161.7 583.6 163.3 583.6 163.3 581.4 164.9 581.4 173.35 581.4 173.35 580.4 181.8 580.4 182.35 580.4 182.35 578.7 182.9 578.7 201.9 578.3 207.2 578.3 207.2 576.8 212.5 576.8 234.7 576.8" fill="none" stroke="#31507c" stroke-width="1.4" stroke-linejoin="round"/>
<path d="M63 679 65.4 679 65.4 677.1 67.8 677.1 67.8 666.5 70.2 666.5 70.2 665.6 72.6 665.6 73.1 665.6 73.1 658.8 73.6 658.8 76 658.8 76 656.9 78.4 656.9 78.85 656.9 78.85 651.2 79.3 651.2 81.75 651.2 81.75 648.3 84.2 648.3 84.65 648.3 84.65 640.6 85.1 640.6 87.05 640.6 87.05 639.6 89 639.6 89.45 639.6 89.45 634.8 89.9 634.8 92.8 634.8 92.8 633.8 95.7 633.8 96.2 633.8 96.2 628.1 96.7 628.1 100.5 628.1 100.5 627.1 104.3 627.1 104.8 627.1 104.8 621.3 105.3 621.3 106.25 621.3 106.25 610.8 107.2 610.8 110.6 610.8 110.6 609.8 114 609.8 114.45 609.8 114.45 603.1 114.9 603.1 118.75 603.1 118.75 602.1 122.6 602.1 126.3 602.1 126.3 598.4 130 598.4 134.25 598.4 134.25 597.3 138.5 597.3 141.65 597.3 141.65 594.1 144.8 594.1 146.9 594.1 146.9 589.9 149 589.9 167 589.9 167 584.6 174.4 584.6 174.4 583.6 181.8 583.6 181.8 579.3 201.9 578.7 207.2 578.7 207.2 577.2 212.5 577.2 212.5 572.3 234.7 572.3" fill="none" stroke="#66b06e" stroke-width="1.4" stroke-linejoin="round"/>
<path d="M61.1 678.1 63.95 678.1 63.95 674.2 66.8 674.2 68.75 674.2 68.75 664.6 70.7 664.6 71.65 664.6 71.65 658.8 72.6 658.8 74.05 658.8 74.05 651.2 75.5 651.2 76.45 651.2 76.45 643.5 77.4 643.5 79.35 643.5 79.35 639.6 81.3 639.6 82.75 639.6 82.75 635.8 84.2 635.8 85.15 635.8 85.15 628.1 86.1 628.1 87.05 628.1 87.05 622.3 88 622.3 89.45 622.3 89.45 618.5 90.9 618.5 92.35 618.5 92.35 615.6 93.8 615.6 94.75 615.6 94.75 610.8 95.7 610.8 96.65 610.8 96.65 605 97.6 605 99.55 605 99.55 601.2 101.5 601.2 103.4 601.2 103.4 597.3 105.3 597.3 107.7 597.3 107.7 594.4 110.1 594.4 112.5 594.4 112.5 591.5 114.9 591.5 118.75 591.5 118.75 589.6 122.6 589.6 124.55 589.6 124.55 586.7 126.5 586.7 128.25 586.7 128.25 585.7 130 585.7 133.15 585.7 133.15 583.6 136.3 583.6 139.5 583.6 139.5 580.4 142.7 580.4 145.85 580.4 145.85 576.2 149 576.2 153.25 576.2 153.25 573 157.5 573 160.65 573 160.65 570.9 163.8 570.9 168.05 570.9 168.05 568.8 172.3 568.8 174.4 568.8 174.4 567.1 176.5 567.1 195.6 566.6 196.65 566.6 196.65 565.6 197.7 565.6 204.05 565.6 204.05 564.5 210.4 564.5 227.3 564.1 231 564.1 231 563.5 234.7 563.5" fill="none" stroke="#553b71" stroke-width="1.4" stroke-linejoin="round"/>
<text x="284" y="554.7" font-size="11" font-weight="bold" fill="#000" textLength="8.3" lengthAdjust="spacingAndGlyphs">H</text>
<text x="343.8" y="554.8" font-size="9.6" fill="#231f20" textLength="154.1" lengthAdjust="spacingAndGlyphs">Adjusted chronic GVHD (MRD neg)</text>
<path d="M322.4 561.6V682.3H519" fill="none" stroke="#231f20" stroke-width="1.4"/>
<text x="305.2" y="680.7" font-size="8.8" fill="#231f20" textLength="10.8" lengthAdjust="spacingAndGlyphs">0.0</text>
<text x="305.2" y="652.65" font-size="8.8" fill="#231f20" textLength="10.8" lengthAdjust="spacingAndGlyphs">0.1</text>
<text x="305.2" y="624.6" font-size="8.8" fill="#231f20" textLength="10.8" lengthAdjust="spacingAndGlyphs">0.2</text>
<text x="305.2" y="596.55" font-size="8.8" fill="#231f20" textLength="10.8" lengthAdjust="spacingAndGlyphs">0.3</text>
<text x="305.2" y="568.5" font-size="8.8" fill="#231f20" textLength="10.8" lengthAdjust="spacingAndGlyphs">0.4</text>
<text x="379.9" y="695.1" font-size="8.3" fill="#231f20" text-anchor="middle">12</text>
<text x="434.8" y="695.1" font-size="8.3" fill="#231f20" text-anchor="middle">24</text>
<text x="489.6" y="695.1" font-size="8.3" fill="#231f20" text-anchor="middle">36</text>
<path d="M318.8 677.9H322.4M318.8 649.85H322.4M318.8 621.8H322.4M318.8 593.75H322.4M318.8 565.7H322.4M379.9 682.3V685.9M434.8 682.3V685.9M489.6 682.3V685.9" stroke="#231f20" stroke-width="1.1" fill="none"/>
<text x="391.45" y="709" font-size="10.2" fill="#231f20" stroke="#231f20" stroke-width="0.2" textLength="58.5" lengthAdjust="spacingAndGlyphs">Months after HCT</text>
<text transform="translate(298.8 622.4) rotate(-90)" x="0" y="0" font-size="9.8" fill="#231f20" stroke="#231f20" stroke-width="0.15" text-anchor="middle" textLength="47.3" lengthAdjust="spacingAndGlyphs">Chronic GVHD</text>
<path d="M339.3 676.9 341.3 668.7 344.6 663.1 348 656.3 351.4 648.4 354 642.4 358.9 638.2 362.3 634.8 365.1 632 367.2 629.2 369.2 627.9 372.8 626.5 377.3 624.2 380 622.5 384.3 620.7 389.5 618.9 393 616.3 394.7 614.8 444.8 614.8 449.2 613.1 464.7 609.8 512.3 609.8" fill="none" stroke="#eca24c" stroke-width="1.4" stroke-linejoin="round"/>
<path d="M329.8 678.3 339.3 678.3 339.3 672.6 341.9 671.7 341.9 666.2 366.1 666.2 366.1 659.6 369.6 659.6 369.6 652.9 512.3 652.9" fill="none" stroke="#a83f5e" stroke-width="1.4" stroke-linejoin="round"/>
<path d="M329.3 677.8 339 677.8 340.1 672.1 342.4 660.8 344.6 651.8 346.9 645 349.2 641.5 352.6 634.8 354 632 356.1 620.9 358.9 616.1 361.6 612.6 363.7 608.5 364.4 605 367.2 601.5 370.7 594.2 373.1 592.3 376.9 591.3 381.7 590.9 384.6 588.9 388.5 588.5 392.3 587.5 396.2 586.1 400 585.4 405 584.3 416.1 582.8 464.7 582.8 471.3 581.5 489 579.2 512.3 576.1" fill="none" stroke="#31507c" stroke-width="1.4" stroke-linejoin="round"/>
<path d="M329.3 674.9 337.9 674.9 339.6 672.1 341.3 664.2 343.5 654.1 345.8 647.3 347.1 643.1 347.8 636.2 350.5 632 352.6 627.9 354.7 622.3 356.1 615.4 356.8 609.5 359.6 609.1 360.6 607.2 362.5 605.8 370.2 605.8 374 597.1 376.4 595.2 378.8 588.5 379.3 585.1 394.7 585.1 405 584.6 413.8 585.4 512.3 585.4" fill="none" stroke="#66b06e" stroke-width="1.4" stroke-linejoin="round"/>
<path d="M330.7 677.8 339.3 677.8 339.6 672.1 341.3 665.3 344.6 654.1 348 645 349.2 642.5 352.6 634.8 354.7 632 356.8 629.9 358.2 627.9 360.9 625.1 365.1 624.4 366.5 621.6 372 620.2 376.2 616.9 379.5 615.2 381.7 614.6 386 613.7 394.7 612.9 396.4 610.4 423.8 610.4 431.5 608.2 443.7 606.9 512.3 606.9" fill="none" stroke="#553b71" stroke-width="1.4" stroke-linejoin="round"/>
</svg></body></html>
